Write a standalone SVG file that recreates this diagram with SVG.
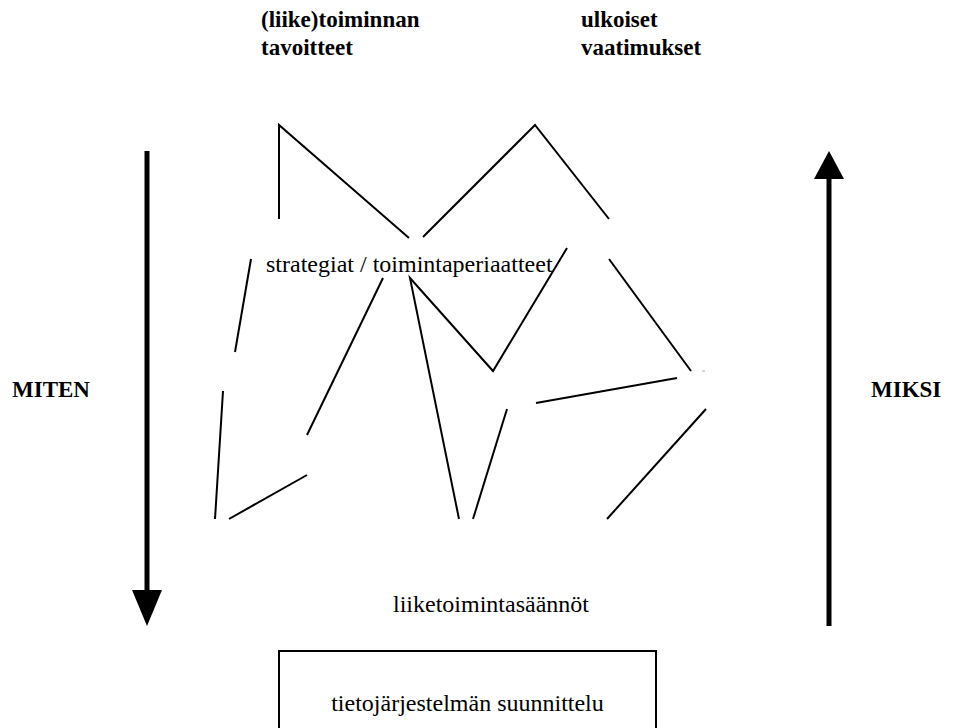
<svg xmlns="http://www.w3.org/2000/svg" width="963" height="728" viewBox="0 0 963 728">
<style>
text{font-family:"Liberation Serif","Times New Roman",serif;fill:#000}
.b{font-weight:bold;font-size:23px}
.r{font-size:24px}
.ln{stroke:#000;stroke-width:2;fill:none;stroke-linecap:butt;stroke-linejoin:miter}
.ar{stroke:#000;stroke-width:5;fill:none}
</style>
<rect width="963" height="728" fill="#fff"/>
<g id="tavoitteet"><text class="b" x="261" y="27">(liike)toiminnan</text><text class="b" x="261" y="55">tavoitteet</text></g>
<g id="vaatimukset"><text class="b" x="581" y="27">ulkoiset</text><text class="b" x="581" y="55">vaatimukset</text></g>
<g id="strategiat"><text class="r" x="266" y="272">strategiat / toimintaperiaatteet</text></g>
<g id="saannot"><text class="r" x="491" y="612" text-anchor="middle">liiketoimintasäännöt</text></g>
<g id="suunnittelu"><rect x="279" y="651" width="377" height="90" fill="#fff" stroke="#000" stroke-width="2"/><text class="r" x="467.5" y="711" text-anchor="middle">tietojärjestelmän suunnittelu</text></g>
<g id="miten"><text class="b" x="12" y="397">MITEN</text></g>
<g id="miksi"><text class="b" x="871" y="397">MIKSI</text></g>
<g id="connectors">
<polyline class="ln" points="279,219 279,125 409,238"/>
<polyline class="ln" points="423,237 535,125 609,219"/>
<line class="ln" x1="609" y1="259" x2="691" y2="371"/>
<polyline class="ln" points="567,248 493,371 410,278 459,519"/>
<line class="ln" x1="383" y1="278" x2="307" y2="435"/>
<line class="ln" x1="307" y1="475" x2="229" y2="519"/>
<line class="ln" x1="251" y1="259" x2="235" y2="352"/>
<line class="ln" x1="223" y1="391" x2="215" y2="519"/>
<line class="ln" x1="507" y1="409" x2="473" y2="519"/>
<line class="ln" x1="536" y1="403" x2="677" y2="378"/>
<line class="ln" x1="706" y1="409" x2="607" y2="519"/>
<line x1="702" y1="371" x2="705" y2="371" stroke="#aaa" stroke-width="1"/>
<line class="ar" x1="147" y1="151" x2="147" y2="592"/>
<polygon points="132,590 162,590 147,626" fill="#000"/>
<line class="ar" x1="829" y1="176" x2="829" y2="626"/>
<polygon points="814,179 844,179 829,151" fill="#000"/>
</g>
</svg>
